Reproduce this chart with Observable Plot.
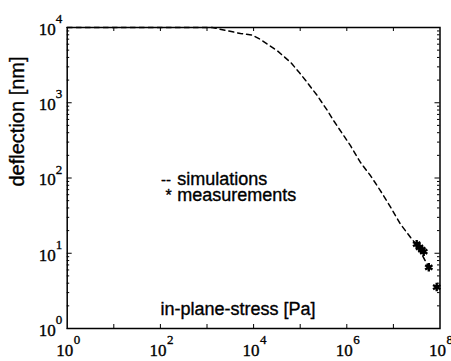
<!DOCTYPE html>
<html><head><meta charset="utf-8">
<script src="https://cdn.jsdelivr.net/npm/d3@7"></script>
<script src="https://cdn.jsdelivr.net/npm/@observablehq/plot@0.6"></script>
<style>body{margin:0;background:#fff}</style>
</head><body><div id="chart"></div>
<script>
// Simulation curve (in-plane stress [Pa] vs deflection [nm])
const simStress = [1, 10, 100, 1288, 5248, 9333, 14125, 32359, 61660, 93325, 141254, 229087, 380189, 524807, 1.2e6, 1.95e6, 3.24e6, 5.25e6, 8.7e6, 1.41e7, 2.34e7, 3.24e7, 5.75e7];
const simDeflection = [10000, 10000, 10000, 10000, 8318, 7943, 6918, 4898, 3467, 2570, 1862, 1259, 794, 575, 269, 162, 107, 68, 41, 24.5, 16.2, 12.6, 6.5];
// Measurements
const measStress = [3.16e7, 3.63e7, 4.07e7, 4.47e7, 5.75e7, 8.5e7];
const measDeflection = [13.2, 12.0, 11.2, 10.5, 6.5, 3.55];
// Ticks
const xTickValues = [10, 100, 1e3, 1e4, 1e5, 1e6, 1e7];
const xLabelValues = [1, 1e2, 1e4, 1e6, 1e8];
const xLabelExponents = ["0", "2", "4", "6", "8"];
const yLabelValues = [1, 10, 100, 1000, 10000];
const yLabelExponents = ["0", "1", "2", "3", "4"];
const yMinorValues = d3.scaleLog().domain([1, 1e4]).ticks().filter(v => !yLabelValues.includes(v));
// Text
const xLabel = "in-plane-stress [Pa]";
const yLabel = "deflection [nm]";
const legendLabels = ["simulations", "measurements"];
const legendSymbols = ["--", "*"];

const W = 451, H = 361, mL = 66.7, mR = 11.5, mT = 27, mB = 33;
const pw = W - mL - mR, ph = H - mT - mB;
const sim = simStress.map((x, i) => ({x, y: simDeflection[i]}));
const meas = measStress.map((x, i) => ({x, y: measDeflection[i]}));
const serif = "'Liberation Serif', 'Times New Roman', serif";
const sans = "'Liberation Sans', Arial, Helvetica, sans-serif";
const heavy = {stroke: "black", strokeWidth: 0.35};

const chart = Plot.plot({
  width: W, height: H,
  marginLeft: mL, marginRight: mR, marginTop: mT, marginBottom: mB,
  x: {type: "log", domain: [1, 1e8], axis: null},
  y: {type: "log", domain: [1, 1e4], axis: null},
  style: {background: "white", overflow: "visible"},
  marks: [
    Plot.line(sim, {x: "x", y: "y", stroke: "black", strokeWidth: 1.5, strokeDasharray: "5,4"}),
    Plot.dot(meas, {x: "x", y: "y", symbol: "asterisk", r: 4, stroke: "black", strokeWidth: 2.4}),
    Plot.frame({stroke: "black", strokeWidth: 1.5}),
    Plot.tickX(xTickValues, {x: d => d, insetTop: ph - 4, stroke: "black"}),
    Plot.tickX(xTickValues, {x: d => d, insetBottom: ph - 4, stroke: "black"}),
    Plot.tickY(yLabelValues, {y: d => d, insetRight: pw - 5, stroke: "black"}),
    Plot.tickY(yLabelValues, {y: d => d, insetLeft: pw - 5, stroke: "black"}),
    Plot.tickY(yMinorValues, {y: d => d, insetRight: pw - 2.5, stroke: "black"}),
    Plot.tickY(yMinorValues, {y: d => d, insetLeft: pw - 2.5, stroke: "black"}),
    // x tick labels
    Plot.text(xLabelValues, {x: d => d, frameAnchor: "bottom", text: () => "10", textAnchor: "end", lineAnchor: "middle", dx: 6, dy: 22, fontSize: 17, fontFamily: serif, fill: "black", ...heavy}),
    Plot.text(xLabelValues, {x: d => d, frameAnchor: "bottom", text: (d, i) => xLabelExponents[i], textAnchor: "start", lineAnchor: "middle", dx: 6.5, dy: 11, fontSize: 13, fontFamily: serif, fill: "black", ...heavy}),
    // y tick labels
    Plot.text(yLabelValues, {y: d => d, frameAnchor: "left", text: () => "10", textAnchor: "end", lineAnchor: "middle", dx: -11.5, dy: 2, fontSize: 17, fontFamily: serif, fill: "black", ...heavy}),
    Plot.text(yLabelValues, {y: d => d, frameAnchor: "left", text: (d, i) => yLabelExponents[i], textAnchor: "start", lineAnchor: "middle", dx: -11.5, dy: -8.5, fontSize: 13, fontFamily: serif, fill: "black", ...heavy}),
    // axis labels
    Plot.text([yLabel], {frameAnchor: "top-left", text: d => d, rotate: -90, textAnchor: "middle", lineAnchor: "middle", dx: -49.2, dy: 94, fontSize: 20, fontFamily: sans, fill: "black", ...heavy}),
    Plot.text([xLabel], {frameAnchor: "bottom-left", text: d => d, textAnchor: "start", lineAnchor: "bottom", dx: 93.3, dy: -14, fontSize: 18, fontFamily: sans, fill: "black", ...heavy}),
    // legend
    Plot.text([legendSymbols[0]], {frameAnchor: "top-left", text: d => d, textAnchor: "start", lineAnchor: "bottom", dx: 93.8, dy: 157, fontSize: 15, fontFamily: sans, fill: "black", ...heavy}),
    Plot.text([legendLabels[0]], {frameAnchor: "top-left", text: d => d, textAnchor: "start", lineAnchor: "bottom", dx: 110, dy: 157.3, fontSize: 18, fontFamily: sans, fill: "black", ...heavy}),
    Plot.text([legendSymbols[1]], {frameAnchor: "top-left", text: d => d, textAnchor: "middle", lineAnchor: "bottom", dx: 101.3, dy: 173, fontSize: 16, fontFamily: sans, fill: "black", ...heavy}),
    Plot.text([legendLabels[1]], {frameAnchor: "top-left", text: d => d, textAnchor: "start", lineAnchor: "bottom", dx: 110, dy: 173, fontSize: 18, fontFamily: sans, fill: "black", ...heavy})
  ]
});
document.getElementById("chart").append(chart);
</script>
</body></html>
